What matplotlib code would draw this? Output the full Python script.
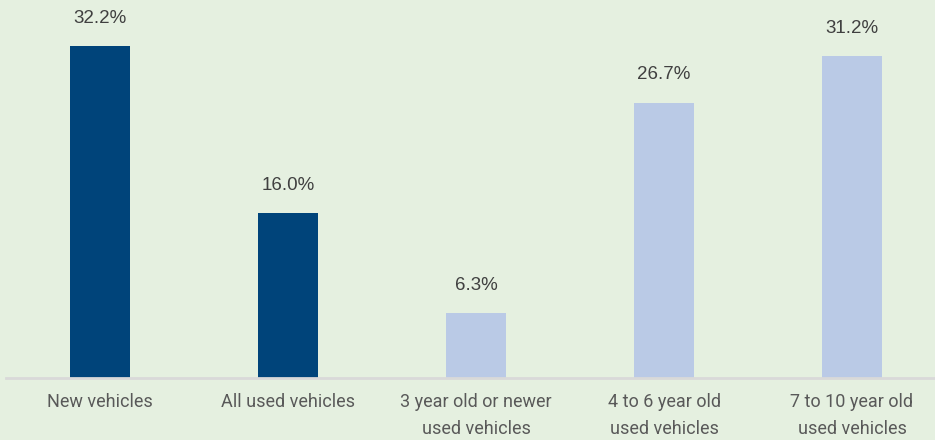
import matplotlib.pyplot as plt
import numpy as np

categories = ["New vehicles", "All used vehicles", "3 year old or newer\nused vehicles",
              "4 to 6 year old\nused vehicles", "7 to 10 year old\nused vehicles"]
values = [32.2, 16.0, 6.3, 26.7, 31.2]
bar_colors = ["#00447a", "#00447a", "#bacae6", "#bacae6", "#bacae6"]

bg = "#e5f0e0"
fig = plt.figure(figsize=(9.35, 4.4), dpi=100, facecolor=bg)
ax = fig.add_axes([6/935, 62/440, 929/935, 378/440], facecolor=bg)

x = np.arange(len(values))
ax.bar(x, values, width=0.314, color=bar_colors)
for xi, v in zip(x, values):
    ax.annotate("%.1f%%" % v, xy=(xi, v), xytext=(0, 20), textcoords="offset points",
                ha="center", va="center", fontsize=13.5, color="#404040",
                family="Liberation Sans")

ax.set_xlim(-0.5, -0.5 + 929/188)
ax.set_ylim(0, 378/10.31)
ax.set_xticks(x)
ax.set_xticklabels(categories, fontsize=13, color="#595959",
                   family=["Roboto", "DejaVu Sans"], linespacing=1.6)
ax.tick_params(axis="x", length=0, pad=11)
ax.set_yticks([])
for s in ["top", "right", "left"]:
    ax.spines[s].set_visible(False)
ax.spines["bottom"].set_color("#d9d9d9")
ax.spines["bottom"].set_linewidth(2)

fig.savefig("out.png", dpi=100, facecolor=bg)
